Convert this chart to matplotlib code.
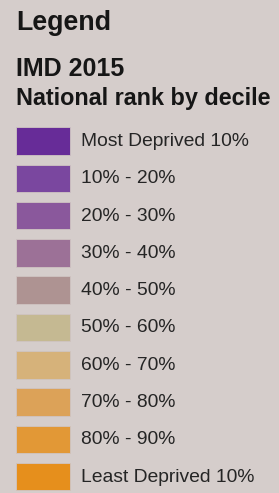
import matplotlib
matplotlib.use('Agg')
from matplotlib import pyplot as plt
import numpy as np

title = 'Legend'
subtitle = 'IMD 2015'
heading = 'National rank by decile'
labels = ['Most Deprived 10%', '10% - 20%', '20% - 30%', '30% - 40%', '40% - 50%',
          '50% - 60%', '60% - 70%', '70% - 80%', '80% - 90%', 'Least Deprived 10%']
colours = ['#672c98', '#7a479f', '#8a589c', '#9c7197', '#ae9392',
           '#c5b992', '#d6b27a', '#dca258', '#e29836', '#e68f1c']

plt.rcParams['font.family'] = ['Liberation Sans', 'DejaVu Sans']
bg = '#d5cdcb'

fig = plt.figure(figsize=(2.79, 4.93), dpi=100, facecolor=bg)
ax = fig.add_axes([0, 0, 1, 1])
ax.set_facecolor(bg)
ax.set_xlim(0, 279)
ax.set_ylim(493, 0)
ax.axis('off')

ax.text(16, 30, title, fontsize=19.3, fontweight='bold', color='#161616', va='baseline')
ax.text(16, 75.5, subtitle, fontsize=18, fontweight='bold', color='#161616', va='baseline')
ax.text(16, 104.5, heading, fontsize=16.8, fontweight='bold', color='#161616', va='baseline')

ypos = 141 + 37.3 * np.arange(len(labels))
ax.barh(ypos, 54, left=16, height=27.5, color=colours, edgecolor='#cfc4c2', linewidth=0.6)
for y, lab in zip(ypos, labels):
    ax.text(81, y + 0.5, lab, fontsize=13.9, color='#252525', va='center')

plt.savefig('out.png', dpi=100, facecolor=bg)
